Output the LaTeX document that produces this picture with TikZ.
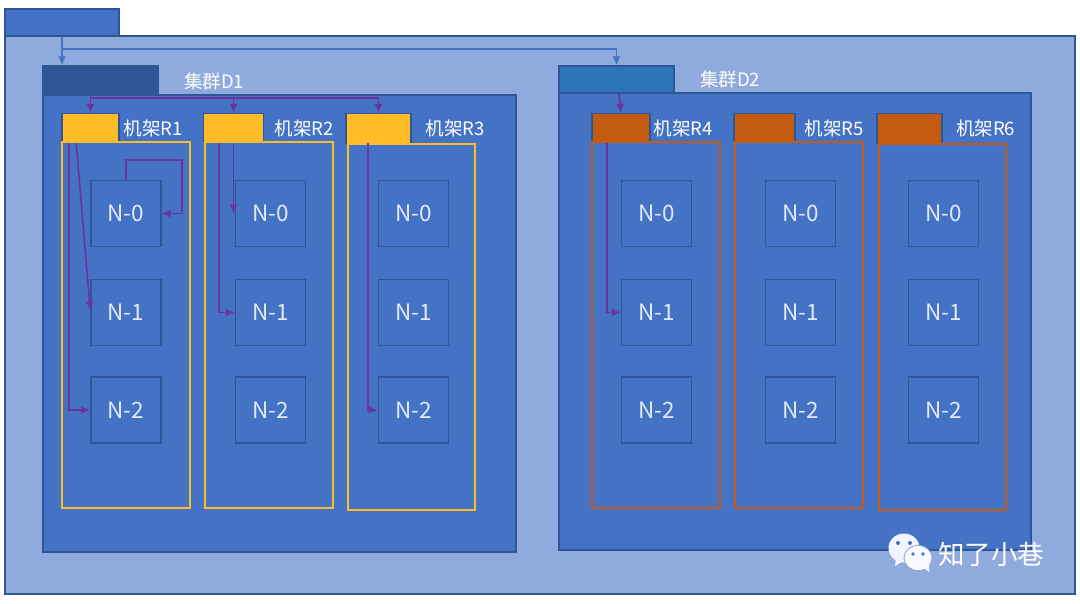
\documentclass[tikz,border=0pt]{standalone}
\usepackage{fontspec}
\usetikzlibrary{arrows.meta,calc}
\setmainfont{Noto Sans CJK SC}
\definecolor{dkblue}{HTML}{2F5597}
\definecolor{midblue}{HTML}{4472C4}
\definecolor{ltblue}{HTML}{8FAADC}
\definecolor{tealblue}{HTML}{2E75B6}
\definecolor{rackyellow}{HTML}{FFBC27}
\definecolor{rackorange}{HTML}{C55A11}
\definecolor{linkpurple}{HTML}{7030A0}
\tikzset{
  panel/.style={draw=dkblue, line width=1.4pt, inner sep=0pt, rectangle},
  tabbox/.style={panel, minimum height=28pt},
  rackbox/.style={rectangle, line width=1.5pt, inner sep=0pt, minimum width=128pt, minimum height=366pt},
  nodebox/.style={panel, minimum width=70pt, minimum height=66pt, text=white!85!midblue, font=\fontsize{22.5}{22.5}\selectfont},
  caption/.style={text=white, inner sep=0pt, font=\fontsize{18.5}{18.5}\selectfont},
  link/.style={-{Latex[length=9pt,width=8pt]}, linkpurple, line width=1.6pt},
  toplink/.style={-{Latex[length=9pt,width=8pt]}, midblue, line width=1.6pt},
}
\begin{document}
\begin{tikzpicture}[x=1pt,y=-1pt]
\useasboundingbox (0,0) rectangle (1080,603);
% outer area
\node[panel, fill=midblue, minimum width=114pt, minimum height=27pt] (tabTop) at (62,22.5) {};
\node[panel, fill=ltblue, minimum width=1070pt, minimum height=558pt] (areaTop) at (540,315) {};
% clusters
\node[panel, fill=midblue, minimum width=473pt, minimum height=457pt] (areaD1) at (279.5,323.5) {};
\node[panel, fill=dkblue, minimum width=115pt, minimum height=29pt] (tabD1) at (100.5,80.5) {};
\node[caption] (lblD1) at (214,81) {集群D1};
\node[panel, fill=midblue, minimum width=472pt, minimum height=457pt] (areaD2) at (795,321.5) {};
\node[panel, fill=tealblue, minimum width=115pt, minimum height=27pt] (tabD2) at (616.5,79.5) {};
\node[caption] (lblD2) at (730,79) {集群D2};
% racks of D1
\node[tabbox, fill=rackyellow, minimum width=57pt] (tabR1) at (90.5,127.5) {};
\node[rackbox, draw=rackyellow] (rackR1) at (126,325) {};
\node[caption] (lblR1) at (153.5,128) {机架R1};
\node[tabbox, fill=rackyellow, minimum width=60pt] (tabR2) at (233.5,127.5) {};
\node[rackbox, draw=rackyellow] (rackR2) at (269,325) {};
\node[caption] (lblR2) at (304.5,128) {机架R2};
\node[tabbox, fill=rackyellow, minimum width=65pt, minimum height=30pt] (tabR3) at (378.5,128.5) {};
\node[rackbox, draw=rackyellow, minimum width=127pt] (rackR3) at (411.5,327) {};
\node[caption] (lblR3) at (455.5,128) {机架R3};
% racks of D2
\node[tabbox, fill=rackorange, minimum width=58pt] (tabR4) at (621,127.5) {};
\node[rackbox, draw=rackorange] (rackR4) at (656,325) {};
\node[caption] (lblR4) at (683.5,128) {机架R4};
\node[tabbox, fill=rackorange, minimum width=61pt] (tabR5) at (764.5,127.5) {};
\node[rackbox, draw=rackorange] (rackR5) at (799,325) {};
\node[caption] (lblR5) at (834.5,128) {机架R5};
\node[tabbox, fill=rackorange, minimum width=65pt, minimum height=30pt] (tabR6) at (909.5,128.5) {};
\node[rackbox, draw=rackorange, minimum width=127pt] (rackR6) at (942.5,327) {};
\node[caption] (lblR6) at (985.5,128) {机架R6};
% data nodes
\node[nodebox] (nR10) at (126,213.5) {N-0};
\node[nodebox] (nR11) at (126,312.5) {N-1};
\node[nodebox] (nR12) at (126,410) {N-2};
\node[nodebox] (nR20) at (270.5,213.5) {N-0};
\node[nodebox] (nR21) at (270.5,312.5) {N-1};
\node[nodebox] (nR22) at (270.5,410) {N-2};
\node[nodebox] (nR30) at (413.5,213.5) {N-0};
\node[nodebox] (nR31) at (413.5,312.5) {N-1};
\node[nodebox] (nR32) at (413.5,410) {N-2};
\node[nodebox] (nR40) at (656.5,213.5) {N-0};
\node[nodebox] (nR41) at (656.5,312.5) {N-1};
\node[nodebox] (nR42) at (656.5,410) {N-2};
\node[nodebox] (nR50) at (800.5,213.5) {N-0};
\node[nodebox] (nR51) at (800.5,312.5) {N-1};
\node[nodebox] (nR52) at (800.5,410) {N-2};
\node[nodebox] (nR60) at (943.5,213.5) {N-0};
\node[nodebox] (nR61) at (943.5,312.5) {N-1};
\node[nodebox] (nR62) at (943.5,410) {N-2};
% links between levels
\coordinate (busTop) at (62,49);
\coordinate (busD1) at (90.5,98);
\coordinate (loopR1) at (182,160);
\draw[toplink] (tabTop.south) -- (tabTop.south |- tabD1.north);
\draw[toplink] (busTop) -| (tabD2.north);
\draw[link] (tabD1.south -| tabR1.north) -- (tabR1.north);
\draw[link] (busD1) -| (tabR3.north);
\draw[link] (tabR2.north |- busD1) -- (tabR2.north);
\draw[link] ([xshift=2.5pt]tabD2.south) -- (tabR4.north);
\draw[link] ([xshift=8pt,yshift=-2pt]rackR1.north west) |- (nR12.west);
\draw[link] ([xshift=15pt,yshift=-2pt]rackR1.north west) -- ([yshift=2pt]nR11.west);
\draw[link] (nR10.north) |- (loopR1) |- (nR10.east);
\draw[link] ([xshift=15pt,yshift=-2pt]rackR2.north west) |- (nR21.west);
\draw[link] ([yshift=-2pt]tabR2.south) -- (tabR2.south |- nR20.west);
\draw[link] ([xshift=21pt]rackR3.north west) |- (nR32.west);
\draw[link] ([xshift=16pt,yshift=-2pt]rackR4.north west) |- (nR41.west);
% watermark
\fill[white!88!ltblue] (904,548) ellipse (15.5 and 14.5);
\fill[white!88!ltblue] (896,558) -- (895,566) -- (905,560) -- cycle;
\fill[midblue] (898,543) circle (2) (910,543) circle (2);
\fill[ltblue] (918,558) ellipse (14.5 and 13);
\fill[white!94!ltblue] (918,558) ellipse (13.5 and 12);
\fill[white!94!ltblue] (924,568) -- (929,572) -- (929,564) -- cycle;
\fill[midblue] (913,554) circle (1.8) (923,554) circle (1.8);
\node[text=white, inner sep=0pt, font=\fontsize{26.5}{26.5}\selectfont] (lblMark) at (991,554) {知了小巷};
\end{tikzpicture}
\end{document}
